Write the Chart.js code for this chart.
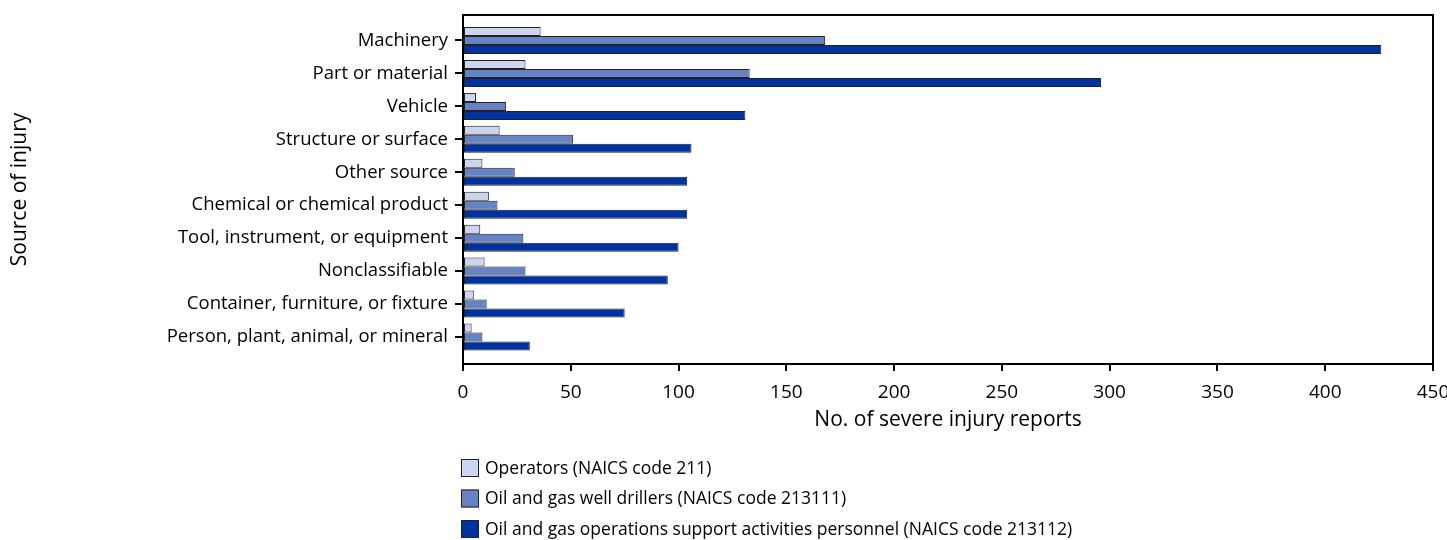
<!DOCTYPE html>
<html>
<head>
<meta charset="utf-8">
<script src="https://cdn.jsdelivr.net/npm/chart.js@4.4.0/dist/chart.umd.min.js"></script>
<style>
  body { margin: 0; background: #fff; }
</style>
</head>
<body>
<canvas id="lesiones" width="1447" height="540"></canvas>
<script>
var categorias = [
    'Machinery',
    'Part or material',
    'Vehicle',
    'Structure or surface',
    'Other source',
    'Chemical or chemical product',
    'Tool, instrument, or equipment',
    'Nonclassifiable',
    'Container, furniture, or fixture',
    'Person, plant, animal, or mineral'
];
var operadores = [36, 29, 6, 17, 9, 12, 8, 10, 5, 4];
var perforadores = [168, 133, 20, 51, 24, 16, 28, 29, 11, 9];
var soporte = [426, 296, 131, 106, 104, 104, 100, 95, 75, 31];
var ticksX = [0, 50, 100, 150, 200, 250, 300, 350, 400, 450];

var nombres = [
    'Operators (NAICS code 211)',
    'Oil and gas well drillers (NAICS code 213111)',
    'Oil and gas operations support activities personnel (NAICS code 213112)'
];

var fuente = "'Open Sans', sans-serif";

// cada categoria va en su posicion (0 = Machinery) sobre un eje lineal
function aPuntos(valores) {
    return valores.map(function (v, i) { return { x: v, y: i }; });
}

document.addEventListener('DOMContentLoaded', function () {
    // marco superior y derecho del area de dibujo
    var marco = {
        id: 'marco',
        afterDatasetsDraw: function (chart) {
            var a = chart.chartArea, ctx = chart.ctx;
            ctx.save();
            ctx.strokeStyle = '#000';
            ctx.lineWidth = 2;
            ctx.beginPath();
            ctx.moveTo(a.left, a.top);
            ctx.lineTo(a.right, a.top);
            ctx.lineTo(a.right, a.bottom);
            ctx.stroke();
            ctx.restore();
        }
    };

    // leyenda en tres lineas, alineada con el eje
    var leyenda = {
        id: 'leyenda',
        afterDraw: function (chart) {
            var ctx = chart.ctx;
            var x = chart.chartArea.left - 2;
            ctx.save();
            ctx.font = '17.5px ' + fuente;
            ctx.textBaseline = 'middle';
            chart.data.datasets.forEach(function (ds, i) {
                var y = 468 + i * 30.5;
                ctx.fillStyle = ds.backgroundColor;
                ctx.fillRect(x, y - 9, 18, 18);
                ctx.strokeStyle = '#222';
                ctx.lineWidth = 1;
                ctx.strokeRect(x + 0.5, y - 8.5, 17, 17);
                ctx.fillStyle = '#000';
                ctx.fillText(ds.label, x + 24, y + 1);
            });
            ctx.restore();
        }
    };

    var ctx = document.getElementById('lesiones').getContext('2d');
    var grafico = new Chart(ctx, {
        type: 'bar',
        data: {
            datasets: [{
                label: nombres[0],
                data: aPuntos(operadores),
                backgroundColor: '#CBD6EE'
            }, {
                label: nombres[1],
                data: aPuntos(perforadores),
                backgroundColor: '#6683C6'
            }, {
                label: nombres[2],
                data: aPuntos(soporte),
                backgroundColor: '#0033A0'
            }]
        },
        options: {
            indexAxis: 'y',
            responsive: false,
            animation: false,
            datasets: {
                bar: {
                    borderColor: '#222',
                    borderWidth: 1,
                    borderSkipped: false,
                    categoryPercentage: 0.82,
                    barPercentage: 1.0
                }
            },
            layout: { padding: { top: 15, right: 14, bottom: 101, left: 0 } },
            plugins: {
                legend: { display: false },
                tooltip: { enabled: false }
            },
            scales: {
                x: {
                    type: 'linear',
                    min: 0,
                    max: 450,
                    afterBuildTicks: function (eje) {
                        eje.ticks = ticksX.map(function (v) { return { value: v }; });
                    },
                    afterFit: function (eje) {
                        eje.height = 75;
                        eje.paddingLeft = 0;
                        eje.paddingRight = 0;
                    },
                    grid: {
                        drawOnChartArea: false,
                        drawTicks: true,
                        tickLength: 7,
                        lineWidth: 2,
                        color: '#000'
                    },
                    border: { display: true, color: '#000', width: 2 },
                    ticks: {
                        padding: 10,
                        color: '#000',
                        maxRotation: 0,
                        font: { family: fuente, size: 19 }
                    },
                    title: {
                        display: true,
                        text: 'No. of severe injury reports',
                        color: '#000',
                        font: { family: fuente, size: 21 },
                        padding: { top: 0, bottom: 6 }
                    }
                },
                y: {
                    type: 'linear',
                    reverse: true,
                    offset: false,
                    min: -0.774,
                    max: 9.82,
                    afterBuildTicks: function (eje) {
                        eje.ticks = categorias.map(function (c, i) { return { value: i }; });
                    },
                    afterFit: function (eje) {
                        eje.width = 463;
                        eje.paddingTop = 0;
                        eje.paddingBottom = 0;
                    },
                    grid: {
                        offset: false,
                        drawOnChartArea: false,
                        drawTicks: true,
                        tickLength: 8,
                        lineWidth: 2,
                        color: '#000'
                    },
                    border: { display: true, color: '#000', width: 2 },
                    ticks: {
                        padding: 7,
                        color: '#000',
                        autoSkip: false,
                        font: { family: fuente, size: 18.5 },
                        callback: function (valor) { return categorias[valor]; }
                    },
                    title: {
                        display: true,
                        text: 'Source of injury',
                        color: '#000',
                        font: { family: fuente, size: 21 },
                        padding: { top: 7.5, bottom: 0 }
                    }
                }
            }
        },
        plugins: [marco, leyenda]
    });
});
</script>
</body>
</html>
